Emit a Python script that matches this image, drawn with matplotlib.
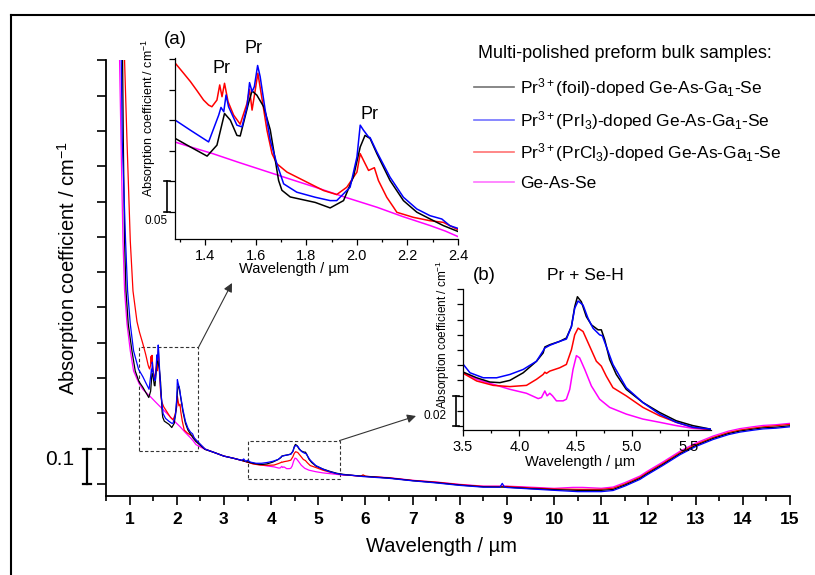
import numpy as np
import matplotlib
matplotlib.use('Agg')
import matplotlib.pyplot as plt
import matplotlib.transforms as mtransforms
from matplotlib.lines import Line2D
from matplotlib.patches import Rectangle
from matplotlib.ticker import MultipleLocator

plt.rcParams['font.family'] = ['Liberation Sans', 'DejaVu Sans']
plt.rcParams['mathtext.fontset'] = 'custom'
plt.rcParams['mathtext.rm'] = 'Liberation Sans'
plt.rcParams['mathtext.it'] = 'Liberation Sans:italic'
plt.rcParams['mathtext.bf'] = 'Liberation Sans:bold'
plt.rcParams['mathtext.default'] = 'regular'

# ---- data (wavelength in um, absorption coefficient in cm^-1, offset arbitrary) ----
wl_foil = [0.845, 0.852, 0.867, 0.894, 0.924, 0.972, 1.05, 1.12, 1.20, 1.281, 1.341, 1.407, 1.446,
           1.476, 1.499, 1.525, 1.538, 1.571, 1.585, 1.604, 1.631, 1.657, 1.677, 1.690, 1.703, 1.736,
           1.835, 1.894, 1.947, 1.986, 2.013, 2.032, 2.052, 2.079, 2.131, 2.184, 2.237, 2.289, 2.342,
           2.408, 2.6, 2.8, 3.0, 3.2, 3.4, 3.503, 3.621, 3.739, 3.827, 3.916, 4.034, 4.152, 4.211,
           4.226, 4.270, 4.358, 4.417, 4.462, 4.491, 4.515, 4.550, 4.594, 4.639, 4.698, 4.727, 4.757,
           4.801, 4.860, 4.948, 5.096, 5.243, 5.391, 5.538, 5.686, 5.95, 6.5, 7.0, 7.5, 8.0, 8.5, 9.0,
           9.5, 10.0, 10.5, 11.0, 11.25, 11.5, 11.82, 11.96, 12.3, 12.67, 13.0, 13.37, 13.7, 13.94,
           14.2, 14.43, 14.7, 15.0]
ab_foil = [1.30, 1.198, 0.972, 0.688, 0.547, 0.453, 0.377, 0.320, 0.290, 0.274, 0.260, 0.245, 0.263,
           0.315, 0.304, 0.279, 0.278, 0.332, 0.352, 0.345, 0.326, 0.288, 0.238, 0.205, 0.189, 0.178,
           0.169, 0.160, 0.172, 0.211, 0.260, 0.279, 0.274, 0.249, 0.205, 0.172, 0.153, 0.142, 0.131,
           0.120, 0.098, 0.089, 0.079, 0.073, 0.066, 0.0624, 0.0587, 0.0559, 0.0555, 0.057, 0.062,
           0.0696, 0.0751, 0.079, 0.0805, 0.0827, 0.0849, 0.0925, 0.1055, 0.1121, 0.1088, 0.099,
           0.0936, 0.0903, 0.0903, 0.0838, 0.0707, 0.0609, 0.0511, 0.0424, 0.0359, 0.0304, 0.0272,
           0.025, 0.022, 0.017, 0.0095, 0.004, -0.003, -0.008, -0.009, -0.013, -0.016, -0.018, -0.018,
           -0.0155, -0.003, 0.016, 0.028, 0.055, 0.086, 0.109, 0.129, 0.143, 0.150, 0.155, 0.159,
           0.161, 0.165]

wl_pri3 = [0.818, 0.824, 0.845, 0.915, 0.958, 1.015, 1.085, 1.19, 1.281, 1.341, 1.413, 1.453, 1.462,
           1.473, 1.482, 1.492, 1.525, 1.545, 1.565, 1.575, 1.585, 1.594, 1.607, 1.617, 1.637, 1.657,
           1.683, 1.710, 1.762, 1.835, 1.894, 1.920, 1.973, 2.000, 2.013, 2.026, 2.046, 2.052, 2.079,
           2.131, 2.184, 2.237, 2.289, 2.336, 2.368, 2.408, 2.6, 2.8, 3.0, 3.2, 3.38, 3.42, 3.46,
           3.503, 3.562, 3.680, 3.798, 3.916, 4.034, 4.152, 4.226, 4.270, 4.358, 4.417, 4.462, 4.491,
           4.521, 4.565, 4.609, 4.653, 4.712, 4.736, 4.771, 4.830, 4.948, 5.096, 5.243, 5.391, 5.538,
           5.686, 5.95, 6.5, 7.0, 7.5, 8.0, 8.5, 8.85, 8.9, 8.95, 9.0, 9.5, 10.0, 10.5, 11.0, 11.25,
           11.5, 11.82, 11.96, 12.3, 12.67, 13.0, 13.37, 13.7, 13.94, 14.2, 14.43, 14.7, 15.0]
ab_pri3 = [1.30, 1.198, 0.972, 0.688, 0.547, 0.453, 0.377, 0.325, 0.304, 0.2875, 0.2683, 0.3123,
           0.3249, 0.3178, 0.3453, 0.326, 0.2958, 0.293, 0.326, 0.3656, 0.3508, 0.359, 0.3937,
           0.3755, 0.3205, 0.271, 0.2325, 0.1995, 0.1858, 0.1775, 0.172, 0.172, 0.194, 0.2435,
           0.2958, 0.2875, 0.2765, 0.2754, 0.2518, 0.2105, 0.1775, 0.1583, 0.1473, 0.1418, 0.1308,
           0.1253, 0.099, 0.089, 0.079, 0.073, 0.067, 0.071, 0.064, 0.0675, 0.062, 0.0587, 0.0587,
           0.0609, 0.0642, 0.0696, 0.0783, 0.0801, 0.0827, 0.0842, 0.0925, 0.1045, 0.1093, 0.1066,
           0.0979, 0.0914, 0.087, 0.0864, 0.0794, 0.0675, 0.0522, 0.0424, 0.0348, 0.0294, 0.0261,
           0.025, 0.021, 0.016, 0.009, 0.003, -0.004, -0.009, -0.009, 0.0018, -0.009, -0.01, -0.014,
           -0.018, -0.0217, -0.0217, -0.0185, -0.006, 0.013, 0.025, 0.052, 0.083, 0.106, 0.126,
           0.140, 0.147, 0.152, 0.156, 0.158, 0.162]

wl_prcl3 = [0.888, 0.894, 0.945, 1.015, 1.072, 1.157, 1.21, 1.281, 1.314, 1.341, 1.367, 1.393,
            1.413, 1.426, 1.446, 1.457,
            1.466, 1.476, 1.490, 1.512, 1.538, 1.565, 1.575, 1.585, 1.608, 1.624, 1.644, 1.664,
            1.683, 1.723, 1.789, 1.868, 1.920, 1.960, 2.000, 2.013, 2.026, 2.046, 2.069, 2.085,
            2.118, 2.145, 2.158, 2.224, 2.289, 2.342, 2.408, 2.6, 2.8, 3.0, 3.2, 3.4, 3.503, 3.621,
            3.768, 3.916, 4.063, 4.152, 4.211, 4.226, 4.240, 4.270, 4.358, 4.417, 4.462, 4.491,
            4.521, 4.565, 4.624, 4.683, 4.727, 4.771, 4.830, 4.948, 5.096, 5.243, 5.391, 5.538,
            5.686, 5.90, 5.95, 6.0, 6.5, 7.0, 7.5, 8.0, 8.5, 9.0, 9.5, 10.0, 10.5, 11.0, 11.25, 11.5,
            11.82, 11.96, 12.3, 12.67, 13.0, 13.37, 13.7, 13.94, 14.2, 14.43, 14.7, 15.0]
ab_prcl3 = [1.30, 1.198, 0.972, 0.688, 0.547, 0.46, 0.43, 0.3975, 0.381, 0.3673, 0.3524, 0.337,
            0.3288, 0.326, 0.337,
            0.3618, 0.3425, 0.3645, 0.3343, 0.3123, 0.2974, 0.3315, 0.3546, 0.3205, 0.381, 0.3398,
            0.2875, 0.249, 0.2325, 0.2188, 0.205, 0.1885, 0.1819, 0.194, 0.2188, 0.249, 0.238,
            0.2215, 0.226, 0.205, 0.1775, 0.161, 0.1528, 0.1445, 0.139, 0.1363, 0.1225, 0.099,
            0.089, 0.079, 0.073, 0.066, 0.0616, 0.0566, 0.0537, 0.0529, 0.0537, 0.0577, 0.0609,
            0.0624, 0.0616, 0.0631, 0.0653, 0.0675, 0.0772, 0.087, 0.0914, 0.0892, 0.0794, 0.0696,
            0.0664, 0.0598, 0.0522, 0.0468, 0.0392, 0.0337, 0.0294, 0.0261, 0.0246, 0.022, 0.026,
            0.022, 0.017, 0.010, 0.005, -0.002, -0.007, -0.007, -0.011, -0.014, -0.015, -0.015,
            -0.012, 0.0, 0.019, 0.031, 0.058, 0.089, 0.112, 0.132, 0.146, 0.153, 0.158, 0.162,
            0.165, 0.169]

wl_gas = [0.782, 0.788, 0.818, 0.860, 0.894, 0.945, 1.015, 1.085, 1.15, 1.20, 1.281, 1.35, 1.43,
          1.53, 1.63, 1.73, 1.835, 1.95, 2.08, 2.18, 2.29, 2.35, 2.408, 2.6, 2.8, 3.0, 3.2, 3.4,
          3.503, 3.621, 3.768, 3.916, 4.063, 4.167, 4.196, 4.226, 4.246, 4.270, 4.294, 4.329, 4.388,
          4.417, 4.447, 4.476, 4.506, 4.535, 4.580, 4.639, 4.712, 4.801, 4.948, 5.096, 5.243, 5.391,
          5.538, 5.686, 5.95, 6.5, 7.0, 7.5, 8.0, 8.5, 9.0, 9.5, 10.0, 10.4, 10.6, 11.0, 11.25, 11.5,
          11.82, 11.96, 12.3, 12.67, 13.0, 13.37, 13.7, 13.94, 14.2, 14.43, 14.7, 15.0]
ab_gas = [1.30, 1.198, 0.972, 0.688, 0.547, 0.453, 0.377, 0.320, 0.300, 0.285, 0.268, 0.259, 0.249,
          0.235, 0.2215, 0.208, 0.194, 0.178, 0.161, 0.146, 0.131, 0.122, 0.1115, 0.098, 0.089,
          0.079, 0.073, 0.066, 0.062, 0.0577, 0.0544, 0.0511, 0.0485, 0.045, 0.0457, 0.05, 0.0468,
          0.0485, 0.0468, 0.0435, 0.0435, 0.0446, 0.0511, 0.0642, 0.0733, 0.0718, 0.0642, 0.0533,
          0.0446, 0.0392, 0.0348, 0.0315, 0.0294, 0.0272, 0.0254, 0.0246, 0.022, 0.018, 0.0105,
          0.0057, -0.001, -0.006, -0.006, -0.009, -0.0123, -0.0095, -0.0095, -0.012, -0.0085, 0.004,
          0.0227, 0.035, 0.062, 0.093, 0.116, 0.136, 0.150, 0.157, 0.162, 0.166, 0.168, 0.172]

labels = [r'Pr$^{3+}$(foil)-doped Ge-As-Ga$_1$-Se',
          r'Pr$^{3+}$(PrI$_3$)-doped Ge-As-Ga$_1$-Se',
          r'Pr$^{3+}$(PrCl$_3$)-doped Ge-As-Ga$_1$-Se',
          'Ge-As-Se']
colors = ['#000000', '#0000ff', '#ff0000', '#ff00ff']
series = [(wl_foil, ab_foil), (wl_pri3, ab_pri3), (wl_prcl3, ab_prcl3), (wl_gas, ab_gas)]
draw_order = [3, 2, 0, 1]

W, H = 815, 575


def fx(px):
    return px / W


def fy(py):
    return 1 - py / H


def axes_rect(left, top, right, bottom):
    return [fx(left), fy(bottom), (right - left) / W, (bottom - top) / H]


fig = plt.figure(figsize=(W / 100, H / 100), dpi=100)

# outer frame (left and top edges visible)
fig.add_artist(Line2D([fx(11), fx(11)], [0, fy(15)], color='k', lw=1.5))
fig.add_artist(Line2D([fx(11), 1], [fy(15), fy(15)], color='k', lw=1.5))


def style_axes(a, lw):
    a.spines['top'].set_visible(False)
    a.spines['right'].set_visible(False)
    a.spines['left'].set_linewidth(lw)
    a.spines['bottom'].set_linewidth(lw)
    a.patch.set_alpha(0)


def scale_bar(a, x, y0, y1, cap, lw):
    tr = mtransforms.blended_transform_factory(a.transAxes, a.transData)
    a.plot([x, x], [y0, y1], color='k', lw=lw, transform=tr, clip_on=False)
    for y in (y0, y1):
        a.plot([x - cap, x + cap], [y, y], color='k', lw=lw, transform=tr, clip_on=False)
    return tr


# ---- main axes ----
ax = fig.add_axes(axes_rect(106, 60.4, 790, 496))
style_axes(ax, 1.3)
for i in draw_order:
    ax.plot(series[i][0], series[i][1], color=colors[i], lw=0.9)
ax.set_xlim(0.5, 15)
ax.set_ylim(-0.034, 1.2)
ax.set_xticks(np.arange(1, 16))
ax.xaxis.set_minor_locator(MultipleLocator(0.5))
ax.set_yticks(np.arange(0, 1.21, 0.1))
ax.set_yticklabels([])
ax.tick_params(which='major', direction='out', length=6.5, width=1.2, labelsize=12.5, pad=5)
ax.tick_params(which='minor', direction='out', length=3.5, width=1.2)
ax.tick_params(axis='y', which='minor', left=False)
for t in ax.get_xticklabels():
    t.set_fontweight('bold')

tr = scale_bar(ax, -0.028, 0.0, 0.1, 0.006, 1.6)
ax.text(-0.046, 0.068, '0.1', transform=tr, ha='right', va='center', fontsize=15)

# zoom boxes and arrows
box_a = (1.19, 0.094, 2.46, 0.387)
box_b = (3.52, 0.013, 5.45, 0.123)
for (x0, y0, x1, y1) in (box_a, box_b):
    ax.add_patch(Rectangle((x0, y0), x1 - x0, y1 - y0, fill=False, ls=(0, (3, 2)), lw=0.8,
                           color='#333333'))
ax.annotate('', xy=(fx(232), fy(283)), xycoords='figure fraction',
            xytext=(box_a[2], box_a[3]), textcoords='data',
            arrowprops=dict(arrowstyle='-|>', lw=0.8, color='#333333', mutation_scale=13,
                            shrinkA=0, shrinkB=0))
ax.annotate('', xy=(fx(416), fy(416)), xycoords='figure fraction',
            xytext=(box_b[2], box_b[3]), textcoords='data',
            arrowprops=dict(arrowstyle='-|>', lw=0.8, color='#333333', mutation_scale=13,
                            shrinkA=0, shrinkB=0))

fig.text(fx(441), fy(547), 'Wavelength / \u00b5m', ha='center', va='center', fontsize=14.5)
fig.text(fx(68), fy(268), r'Absorption coefficient / cm$^{-1}$', ha='center', va='center',
         rotation=90, fontsize=14.5)

# ---- inset (a) ----
axa = fig.add_axes(axes_rect(175, 58, 458, 239))
style_axes(axa, 0.9)
for i in draw_order:
    axa.plot(series[i][0], series[i][1], color=colors[i], lw=1.1)
axa.set_xlim(1.28, 2.40)
axa.set_ylim(0.109, 0.406)
axa.set_xticks(np.arange(1.4, 2.41, 0.2))
axa.set_xticklabels(['%.1f' % v for v in np.arange(1.4, 2.41, 0.2)])
axa.xaxis.set_minor_locator(MultipleLocator(0.1))
axa.set_yticks(np.arange(0.154, 0.41, 0.05))
axa.set_yticklabels([])
axa.tick_params(which='major', direction='out', length=4, width=0.9, labelsize=10.5, pad=3)
axa.tick_params(which='minor', direction='out', length=2, width=0.9)
tra = scale_bar(axa, -0.028, 0.154, 0.204, 0.011, 1.2)
axa.text(-0.067, 0.139, '0.05', transform=tra, ha='center', va='center', fontsize=8.5)
fig.text(fx(294), fy(268.5), 'Wavelength / \u00b5m', ha='center', va='center', fontsize=10.5)
fig.text(fx(149), fy(118), r'Absorption coefficient / cm$^{-1}$', ha='center', va='center',
         rotation=90, fontsize=9)
fig.text(fx(175), fy(40), '(a)', ha='center', va='center', fontsize=13.5)
for (px, py) in ((222, 68.5), (254, 48.5), (369, 114.5)):
    fig.text(fx(px), fy(py), 'Pr', ha='center', va='center', fontsize=13)

# ---- inset (b) ----
axb = fig.add_axes(axes_rect(463, 289, 711, 430))
style_axes(axb, 0.9)
for i in draw_order:
    axb.plot(series[i][0], series[i][1], color=colors[i], lw=1.1)
axb.set_xlim(3.5, 5.7)
axb.set_ylim(0.0243, 0.1172)
axb.set_xticks(np.arange(3.5, 5.6, 0.5))
axb.set_xticklabels(['%.1f' % v for v in np.arange(3.5, 5.6, 0.5)])
axb.xaxis.set_minor_locator(MultipleLocator(0.25))
axb.set_yticks(np.arange(0.027, 0.118, 0.01))
axb.set_yticklabels([])
axb.tick_params(which='major', direction='out', length=4, width=0.9, labelsize=10.5, pad=3)
axb.tick_params(which='minor', direction='out', length=2, width=0.9)
trb = scale_bar(axb, -0.028, 0.027, 0.047, 0.012, 1.2)
axb.text(-0.113, 0.0337, '0.02', transform=trb, ha='center', va='center', fontsize=8.5)
fig.text(fx(580), fy(462), 'Wavelength / \u00b5m', ha='center', va='center', fontsize=10.5)
fig.text(fx(443), fy(335), r'Absorption coefficient / cm$^{-1}$', ha='center', va='center',
         rotation=90, fontsize=8.5)
fig.text(fx(484.5), fy(275), '(b)', ha='center', va='center', fontsize=13.5)
fig.text(fx(585), fy(275), 'Pr + Se-H', ha='center', va='center', fontsize=12.5)

# ---- legend ----
fig.text(fx(478), fy(58.3), 'Multi-polished preform bulk samples:', ha='left', va='baseline',
         fontsize=13)
leg_y = [93.3, 126, 158.3, 188.3]
for i, lab in enumerate(labels):
    fig.add_artist(Line2D([fx(474), fx(514)], [fy(leg_y[i] - 6.5)] * 2, color=colors[i],
                          lw=1.2, alpha=0.55))
    fig.text(fx(520), fy(leg_y[i]), lab, ha='left', va='baseline', fontsize=12.5)

fig.savefig('out.png', dpi=100)
